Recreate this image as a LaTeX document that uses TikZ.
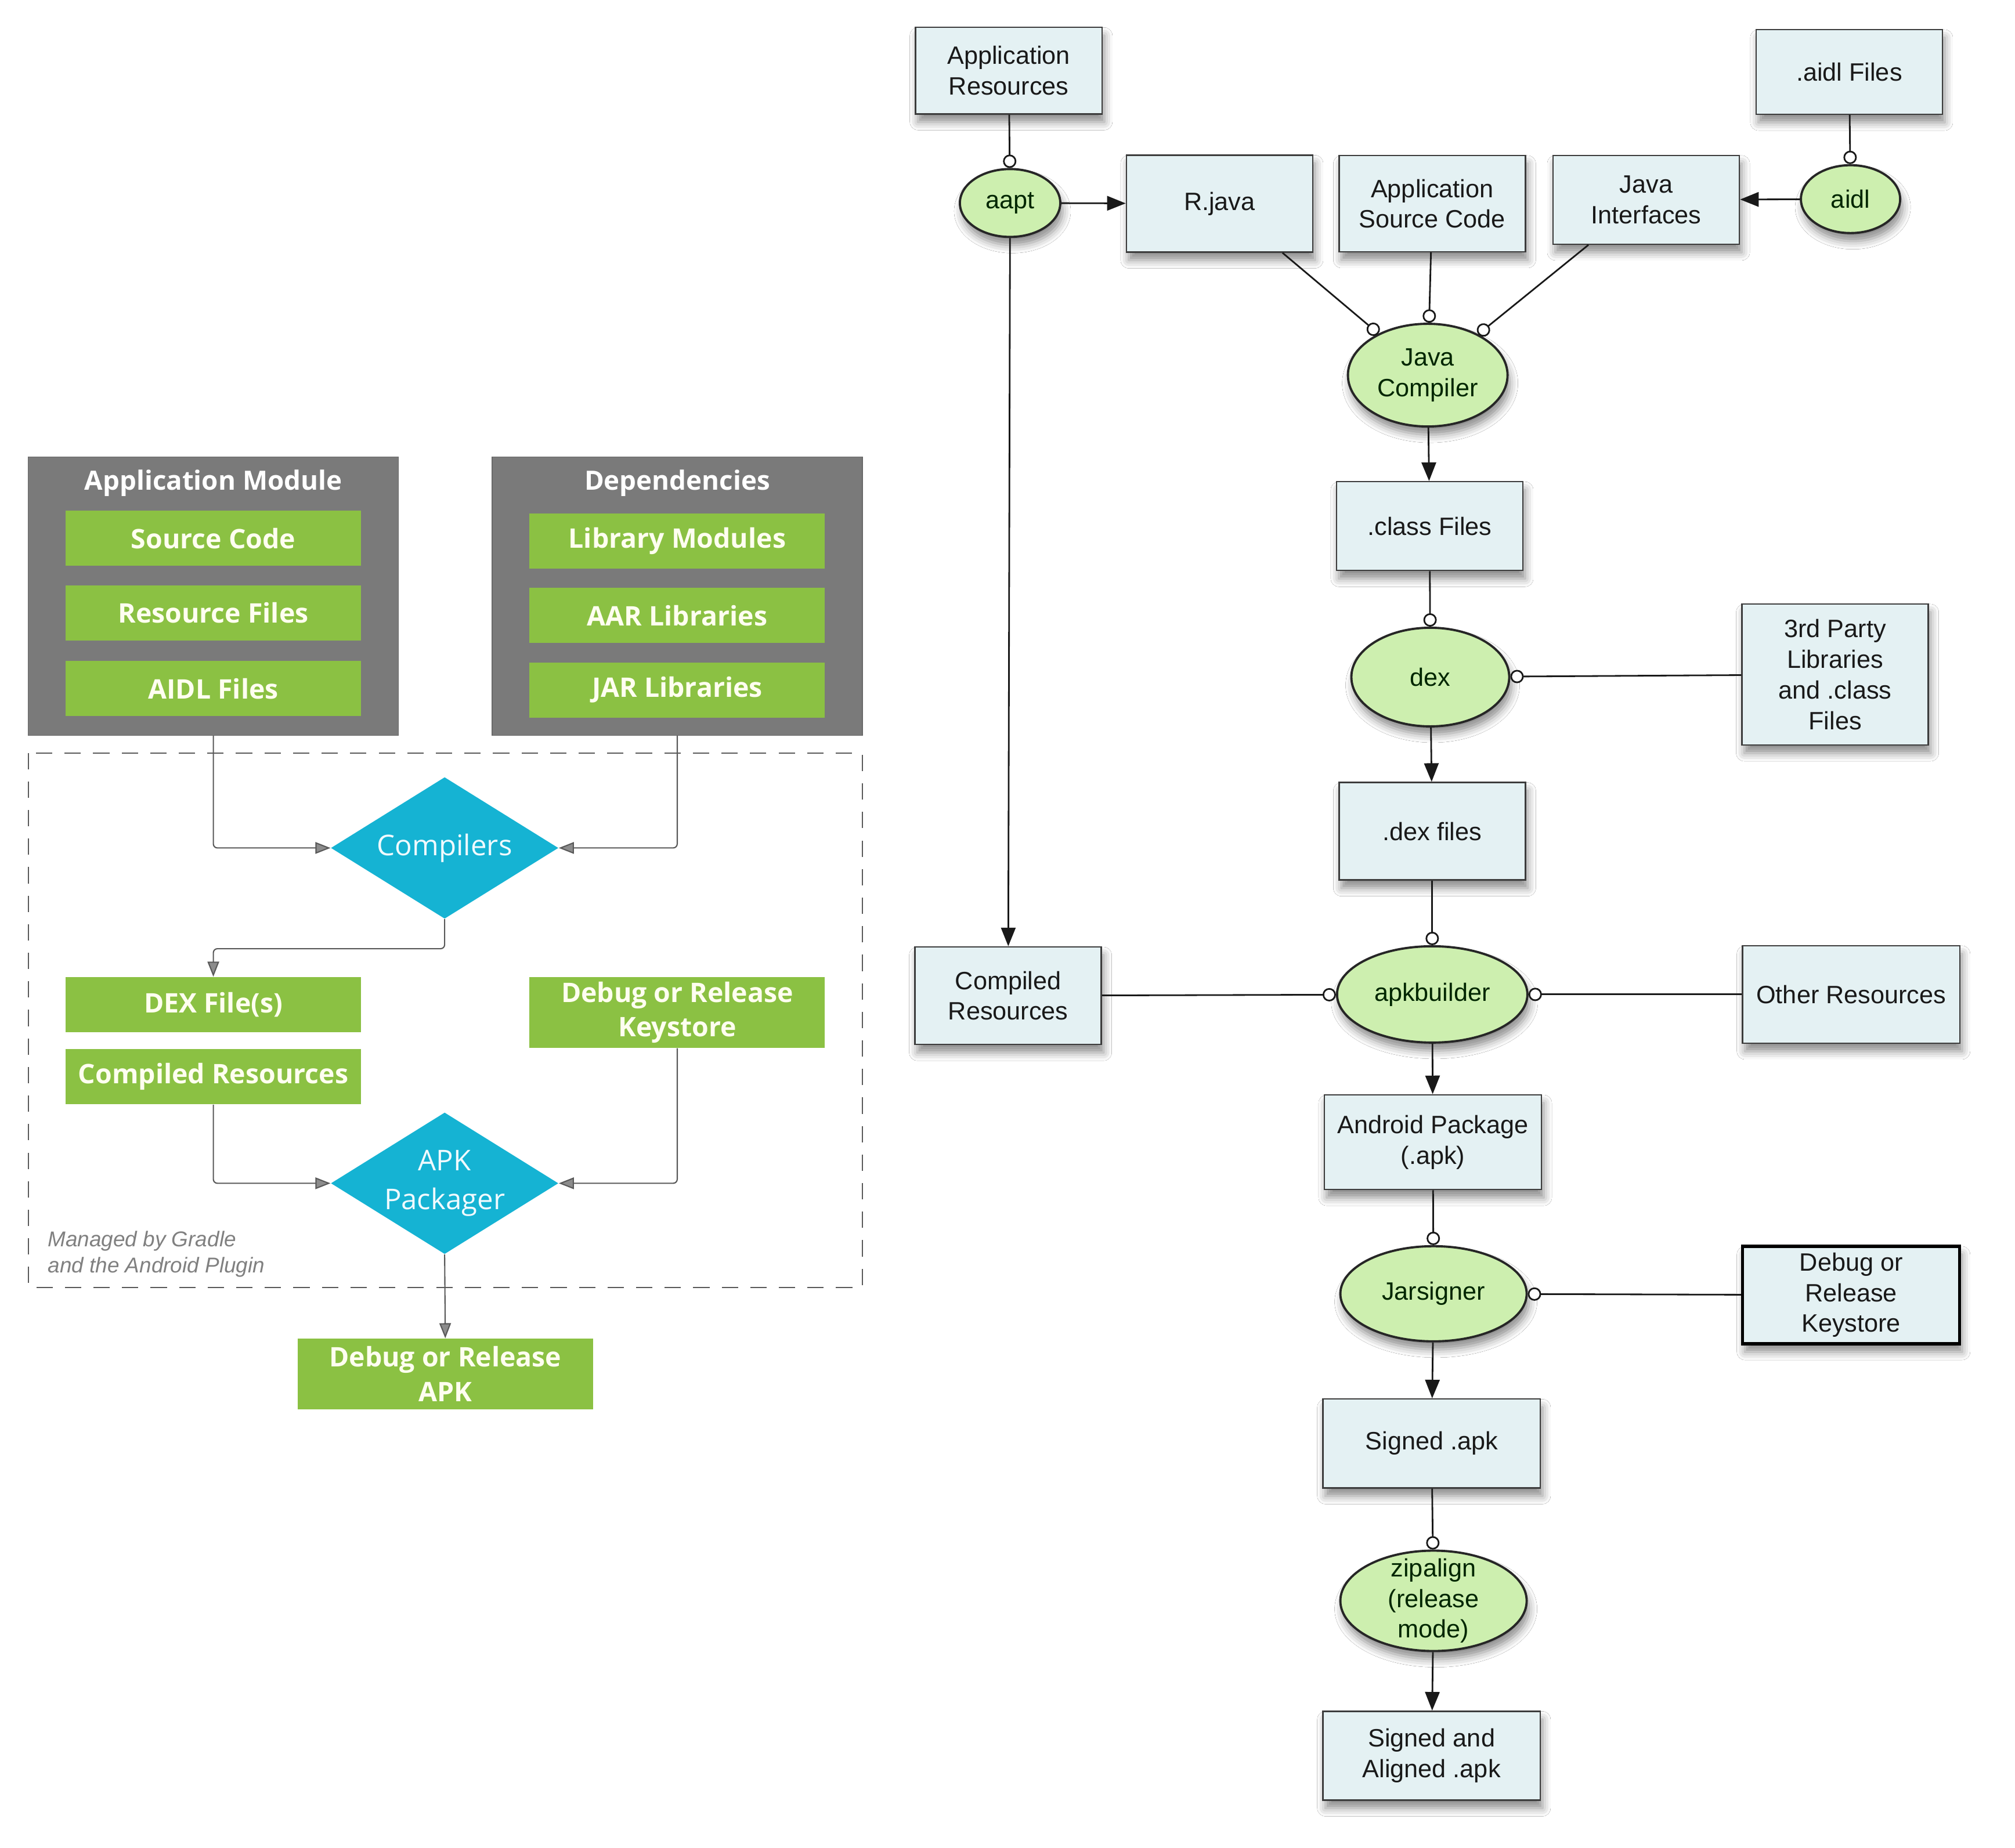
\documentclass[tikz,border=0pt]{standalone}
\usepackage{fontspec}
\setmainfont{Liberation Sans}
\newfontfamily\droidfont{Open Sans}
\usetikzlibrary{arrows.meta,shapes.geometric,shadows.blur}

\definecolor{moduleGray}{HTML}{7A7A7A}
\definecolor{partGreen}{HTML}{8BC143}
\definecolor{stageBlue}{HTML}{15B3D3}
\definecolor{fileBlue}{HTML}{E4F1F3}
\definecolor{toolGreen}{HTML}{CDEFAF}
\definecolor{inkGray}{HTML}{3C3C3C}

\tikzset{
  softshadow/.style={blur shadow={shadow xshift=0.4mm, shadow yshift=-1.4mm,
      shadow blur radius=1.4mm, shadow opacity=45}},
}

\begin{document}
\begin{tikzpicture}[
      x = 0.02214cm, y = -0.02214cm,
      module/.style = {
        draw = moduleGray!85!black, fill = moduleGray, inner sep = 0pt,
        minimum width = 6.38cm, minimum height = 4.8cm},
      modtitle/.style = {
        text = white, inner sep = 0pt,
        font = \droidfont\bfseries\fontsize{13}{15}\selectfont},
      part/.style = {
        fill = partGreen, inner sep = 0pt, align = center,
        minimum width = 5.09cm, minimum height = 0.95cm, text = yellow!6!white,
        font = \droidfont\bfseries\fontsize{13.2}{17}\selectfont},
      tallpart/.style = {part, minimum height = 1.22cm},
      stage/.style = {
        diamond, aspect = 1.6, inner sep = 0pt, fill = stageBlue,
        minimum width = 3.92cm, minimum height = 2.44cm, align = center,
        text = cyan!6!white, font = \droidfont\fontsize{14}{19}\selectfont},
      gflow/.style = {
        draw = black!65, line width = 0.6pt, rounded corners = 2pt,
        -{Triangle[length = 2.6mm, width = 2mm, fill = black!45]}},
      frame/.style = {
        draw = black!65, line width = 0.6pt, dash pattern = on 8pt off 6pt},
      gradlenote/.style = {
        anchor = north west, inner sep = 0pt, align = left, text = black!50,
        font = \itshape\fontsize{10.5}{12.8}\selectfont},
      file/.style = {
        rectangle, draw = inkGray, line width = 0.7pt, fill = fileBlue,
        minimum width = 3.21cm, minimum height = 1.6cm, inner sep = 0pt,
        align = center, text = black!90, softshadow,
        font = \fontsize{12.3}{15}\selectfont},
      widefile/.style = {file, minimum width = 3.74cm},
      tool/.style = {
        ellipse, draw = black!85, line width = 1.1pt, fill = toolGreen,
        inner sep = 0pt, align = center, text = black!85!green, softshadow,
        font = \fontsize{12.3}{15}\selectfont},
      feed/.style = {
        draw = black!90, line width = 0.8pt,
        -{Circle[open, fill = white, length = 2.3mm]}},
      flow/.style = {
        draw = black!90, line width = 0.8pt,
        -{Triangle[length = 3.2mm, width = 2.5mm]}}
      ]
    \useasboundingbox[fill = white] (0,0) rectangle (1568,1438);

    % gradle build, left
    \node[module] (appmod) at (166,464) {};
    \node[modtitle] (appmodlbl) at (166,376) {Application Module};
    \node[part] (srccode) at (166,419) {Source Code};
    \node[part] (resfiles) at (166,477) {Resource Files};
    \node[part] (aidlfiles) at (166,536) {AIDL Files};

    \node[module] (deps) at (527,464) {};
    \node[modtitle] (depslbl) at (527,376) {Dependencies};
    \node[part] (libmods) at (527,421) {Library Modules};
    \node[part] (aarlibs) at (527,479) {AAR Libraries};
    \node[part] (jarlibs) at (527,537) {JAR Libraries};

    \draw[frame] (22,586) rectangle (671,1002);
    \node[gradlenote] (gradle) at (37,958) {Managed by Gradle\\and the Android Plugin};

    \node[stage] (compilers) at (346,660) {Compilers};
    \node[part] (dexout) at (166,782) {DEX File(s)};
    \node[part] (compout) at (166,838) {Compiled Resources};
    \node[tallpart] (keystore) at (527,788) {Debug or Release\\Keystore};
    \node[stage] (packager) at (346,921) {APK\\Packager};
    \node[tallpart] (apkout) at (346.5,1069.5) {Debug or Release\\APK};

    \draw[gflow] (appmod.south) |- (compilers.west);
    \draw[gflow] (deps.south) |- (compilers.east);
    \draw[gflow] (compilers.south) -- ++(0,23) -| (dexout.north);
    \draw[gflow] (compout.south) |- (packager.west);
    \draw[gflow] (keystore.south) |- (packager.east);
    \draw[gflow] (packager.south) -- (apkout.north);

    % build tools, right
    \node[file, minimum height = 1.49cm] (appres) at (785,55) {Application\\Resources};
    \node[tool, minimum width = 1.73cm, minimum height = 1.17cm] (aapt) at (786,158) {aapt};
    \node[file, minimum height = 1.67cm] (rjava) at (949,158.5) {R.java};
    \node[file, minimum height = 1.66cm] (appsrc) at (1114.5,158.5) {Application\\Source Code};
    \node[file, minimum height = 1.53cm] (javaif) at (1281,155.5) {Java\\Interfaces};
    \node[file, minimum height = 1.46cm] (aidlsrc) at (1439,56) {.aidl Files};
    \node[tool, minimum width = 1.71cm, minimum height = 1.17cm] (aidl) at (1440,155) {aidl};
    \node[tool, minimum width = 2.75cm, minimum height = 1.77cm] (javac) at (1111,292) {Java\\Compiler};
    \node[file, minimum height = 1.53cm] (classf) at (1112.5,409.5) {.class Files};
    \node[tool, minimum width = 2.72cm, minimum height = 1.7cm] (dex) at (1113,527) {dex};
    \node[file, minimum height = 2.43cm] (thirdp) at (1428,525) {3rd Party\\Libraries\\and .class\\Files};
    \node[file, minimum height = 1.68cm] (dexf) at (1114.5,647) {.dex files};
    \node[file, minimum height = 1.68cm] (compres) at (784.5,775) {Compiled\\Resources};
    \node[tool, minimum width = 3.28cm, minimum height = 1.66cm] (apkb) at (1114.5,774) {apkbuilder};
    \node[widefile, minimum height = 1.68cm] (otherres) at (1440.5,774) {Other Resources};
    \node[widefile, minimum height = 1.63cm] (apk) at (1115,889) {Android Package\\(.apk)};
    \node[tool, minimum width = 3.21cm, minimum height = 1.64cm] (jars) at (1115.5,1007) {Jarsigner};
    \node[widefile, minimum height = 1.68cm, draw = black, line width = 1.5pt] (keyfile) at (1440.5,1008) {Debug or\\Release\\Keystore};
    \node[widefile, minimum height = 1.53cm] (signed) at (1114,1123.5) {Signed .apk};
    \node[tool, minimum width = 3.21cm, minimum height = 1.73cm, inner ysep = -1.6mm] (zipal) at (1115.5,1246) {zipalign\\(release\\mode)};
    \node[widefile, minimum height = 1.53cm] (aligned) at (1114,1366.5) {Signed and\\Aligned .apk};

    \draw[feed] (appres) -- (aapt);
    \draw[flow] (aapt) -- (rjava);
    \draw[flow] (aapt) -- (compres);
    \draw[feed] (rjava.-38) -- (javac);
    \draw[feed] (appsrc) -- (javac);
    \draw[feed] (javaif.-142) -- (javac);
    \draw[feed] (aidlsrc) -- (aidl);
    \draw[flow] (aidl) -- (javaif);
    \draw[flow] (javac) -- (classf);
    \draw[feed] (classf) -- (dex);
    \draw[feed] (thirdp) -- (dex);
    \draw[flow] (dex) -- (dexf);
    \draw[feed] (dexf) -- (apkb);
    \draw[feed] (compres) -- (apkb);
    \draw[feed] (otherres) -- (apkb);
    \draw[flow] (apkb) -- (apk);
    \draw[feed] (apk) -- (jars);
    \draw[feed] (keyfile) -- (jars);
    \draw[flow] (jars) -- (signed);
    \draw[feed] (signed) -- (zipal);
    \draw[flow] (zipal) -- (aligned);
  \end{tikzpicture}
\end{document}
